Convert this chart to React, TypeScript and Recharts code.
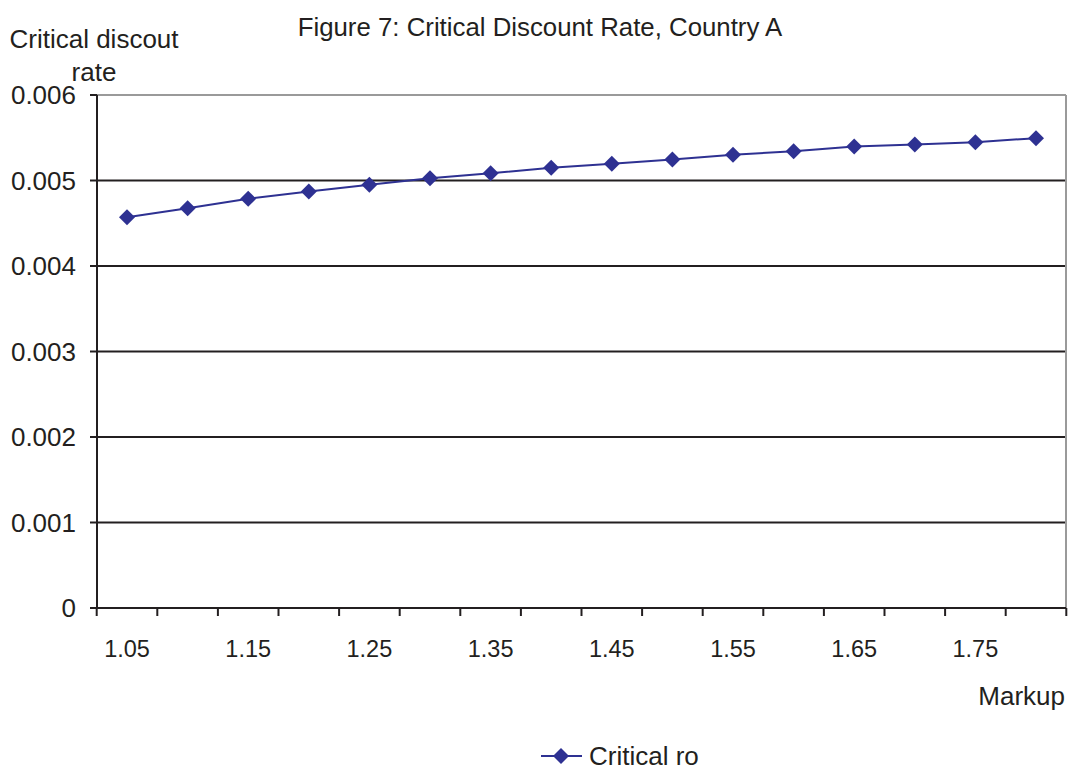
import React from 'react';
import { LineChart, Line, XAxis, YAxis, CartesianGrid, Legend } from 'recharts';

const markups = ['1.05', '1.10', '1.15', '1.20', '1.25', '1.30', '1.35', '1.40', '1.45', '1.50', '1.55', '1.60', '1.65', '1.70', '1.75', '1.80'];
const criticalRo = [0.004571, 0.004676, 0.004786, 0.004871, 0.00495, 0.005027, 0.005085, 0.005148, 0.005195, 0.005245, 0.0053, 0.005343, 0.005397, 0.005421, 0.005448, 0.005495];
const yTicks = [0, 0.001, 0.002, 0.003, 0.004, 0.005, 0.006];
const gridValues = [0.001, 0.002, 0.003, 0.004, 0.005];

const data = markups.map((m, i) => ({ markup: m, ro: criticalRo[i] }));

const INK = '#231f20';
const BLUE = '#2e3192';
const FONT = '"Liberation Sans", Arial, Helvetica, sans-serif';
const HALF = 30.3; // half a category step

const Diamond = (props: any) => {
  const { cx, cy } = props;
  if (cx == null || cy == null) return null;
  const r = 8;
  return <polygon points={`${cx},${cy - r} ${cx + r},${cy} ${cx},${cy + r} ${cx - r},${cy}`} fill={BLUE} />;
};

const XTick = (props: any) => {
  const { x, y, payload, index } = props;
  return (
    <g>
      <line x1={x - HALF} x2={x - HALF} y1={y} y2={y + 8} stroke={INK} strokeWidth={2} />
      {index === markups.length - 1 && <line x1={x + HALF} x2={x + HALF} y1={y} y2={y + 8} stroke={INK} strokeWidth={2} />}
      {index % 2 === 0 && (
        <text x={x} y={y + 49} textAnchor="middle" fill={INK} fontSize={23.5} fontFamily={FONT}>
          {payload.value}
        </text>
      )}
    </g>
  );
};

const LegendContent = () => (
  <svg width={200} height={50} style={{ overflow: 'visible' }}>
    <line x1={2} x2={43} y1={37} y2={37} stroke={BLUE} strokeWidth={2} />
    <polygon points="22,29 30,37 22,45 14,37" fill={BLUE} />
    <text x={50} y={46} fontSize={26} fill={INK} fontFamily={FONT}>Critical ro</text>
  </svg>
);

export default function App() {
  return (
    <div style={{ position: 'absolute', left: 0, top: 0, width: 1070, height: 769, background: '#fff', fontFamily: FONT }}>
      <LineChart width={1070} height={769} data={data} margin={{ top: 95, right: 4, bottom: 0, left: 0 }}>
        <CartesianGrid vertical={false} horizontalValues={gridValues} stroke={INK} strokeWidth={2} />
        <CartesianGrid
          stroke="#9a9a9a"
          strokeWidth={2}
          horizontalCoordinatesGenerator={({ offset }: any) => [offset.top]}
          verticalCoordinatesGenerator={({ offset }: any) => [offset.left + offset.width]}
        />
        <XAxis
          dataKey="markup"
          interval={0}
          height={111}
          padding={{ left: 30, right: 30 }}
          tickLine={false}
          tickSize={0}
          tickMargin={0}
          axisLine={{ stroke: INK, strokeWidth: 2 }}
          tick={<XTick />}
        />
        <YAxis
          width={97}
          domain={[0, 0.006]}
          ticks={yTicks}
          interval={0}
          tickSize={7}
          tickMargin={14}
          tickLine={{ stroke: INK, strokeWidth: 2 }}
          axisLine={{ stroke: INK, strokeWidth: 2 }}
          tick={{ fill: INK, fontSize: 26, fontFamily: FONT }}
          tickFormatter={(v: number) => String(v)}
        />
        <Legend verticalAlign="bottom" height={50} content={<LegendContent />} wrapperStyle={{ left: 539, bottom: 0, width: 200 }} />
        <Line dataKey="ro" name="Critical ro" stroke={BLUE} strokeWidth={2} dot={<Diamond />} activeDot={false} isAnimationActive={false} />
      </LineChart>
      <svg width={1070} height={769} style={{ position: 'absolute', left: 0, top: 0, pointerEvents: 'none' }}>
        <text x={540} y={36} textAnchor="middle" fontSize={25.8} fill={INK} fontFamily={FONT}>Figure 7: Critical Discount Rate, Country A</text>
        <text x={94} y={48} textAnchor="middle" fontSize={26} fill={INK} fontFamily={FONT}>Critical discout</text>
        <text x={94} y={81} textAnchor="middle" fontSize={26} fill={INK} fontFamily={FONT}>rate</text>
        <text x={1065} y={705} textAnchor="end" fontSize={26} fill={INK} fontFamily={FONT}>Markup</text>
      </svg>
    </div>
  );
}
